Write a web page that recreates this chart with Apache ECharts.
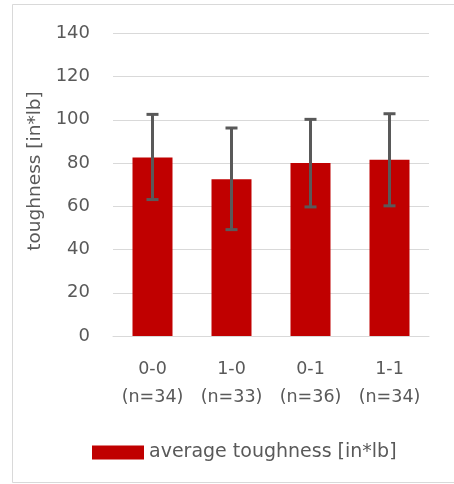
<!DOCTYPE html>
<html>
<head>
<meta charset="utf-8">
<script src="https://cdn.jsdelivr.net/npm/echarts@6/dist/echarts.min.js"></script>
<style>html,body{margin:0;padding:0;background:#fff;overflow:hidden;}#c{width:454px;height:484px;}</style>
</head>
<body>
<div id="c"></div>
<script>
const categories = ['0-0\n(n=34)', '1-0\n(n=33)', '0-1\n(n=36)', '1-1\n(n=34)'];
const averageToughness = [82.5, 72.5, 80, 81.5];
const errorLow = [63.1, 49.2, 59.7, 60.2];
const errorHigh = [102.5, 96.2, 100.2, 102.8];
const yTicks = {min: 0, max: 140, interval: 20};
const seriesName = 'average toughness [in*lb]';
const yTitle = 'toughness [in*lb]';

const FONT = 'DejaVu Sans';
const GREY = '#595959';
const chart = echarts.init(document.getElementById('c'), null, {renderer: 'canvas'});
const errData = categories.map((c, i) => [i, errorLow[i], errorHigh[i]]);

chart.setOption({
  animation: false,
  backgroundColor: '#fff',
  grid: {left: 113, right: 25, top: 33.3, height: 302.7, containLabel: false},
  legend: {
    data: [seriesName],
    left: 92, top: 443, padding: 0,
    itemWidth: 52, itemHeight: 14, icon: 'rect', itemGap: 5,
    textStyle: {color: GREY, fontFamily: FONT, fontSize: 19, padding: [0, 0, 0, 0]}
  },
  xAxis: {
    type: 'category', data: categories,
    axisLine: {lineStyle: {color: '#d9d9d9', width: 1}},
    axisTick: {alignWithLabel: true, length: 6, lineStyle: {color: '#d9d9d9'}},
    axisLabel: {interval: 0, hideOverlap: false, color: GREY, fontFamily: FONT, fontSize: 17.5, lineHeight: 28, margin: 19}
  },
  yAxis: {
    type: 'value', min: yTicks.min, max: yTicks.max, interval: yTicks.interval,
    axisLine: {show: false}, axisTick: {show: false},
    splitLine: {lineStyle: {color: '#d9d9d9', width: 1}},
    axisLabel: {color: GREY, fontFamily: FONT, fontSize: 18, margin: 23}
  },
  graphic: [
    {type: 'polyline', shape: {points: [[480, 4.5], [12.5, 4.5], [12.5, 482.5], [480, 482.5]]},
      style: {fill: 'none', stroke: '#d9d9d9', lineWidth: 1}, z: 0},
    {type: 'text', x: 35, y: 171, rotation: Math.PI / 2,
      style: {text: yTitle, fill: GREY, font: '18.5px "DejaVu Sans"', align: 'center', verticalAlign: 'middle'}}
  ],
  series: [
    {name: seriesName, type: 'bar', data: averageToughness, barWidth: 40,
      itemStyle: {color: '#C00000'}},
    {name: 'err', type: 'custom', data: errData, z: 5,
      renderItem: function (params, api) {
        const x = api.value(0);
        const lo = api.coord([x, api.value(1)]);
        const hi = api.coord([x, api.value(2)]);
        const hw = 6;
        const st = {stroke: '#595959', lineWidth: 3};
        return {type: 'group', children: [
          {type: 'line', shape: {x1: lo[0], y1: lo[1], x2: hi[0], y2: hi[1]}, style: st},
          {type: 'line', shape: {x1: lo[0] - hw, y1: lo[1], x2: lo[0] + hw, y2: lo[1]}, style: st},
          {type: 'line', shape: {x1: hi[0] - hw, y1: hi[1], x2: hi[0] + hw, y2: hi[1]}, style: st}
        ]};
      }
    }
  ]
});
</script>
</body>
</html>
